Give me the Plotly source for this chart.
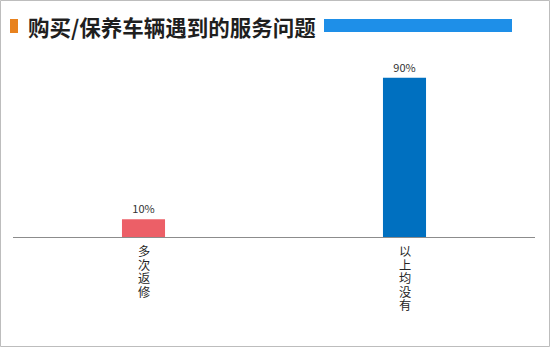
import plotly.graph_objects as go

# Chart data
categories = ["多次返修", "以上均没有"]
values = [10, 90]
bar_colors = ["#EC5F67", "#0070C0"]
title_text = "购买/保养车辆遇到的服务问题"

W, H = 550, 347
L, R, T, B = 13, 15, 60, 110
pw, ph = W - L - R, H - T - B


def px_x(x):
    return (x - L) / pw


def px_y(y):
    return 1 - (y - T) / ph


fig = go.Figure(
    go.Bar(
        x=categories,
        y=values,
        marker=dict(color=bar_colors, line=dict(width=0)),
        text=[f"{v}%" for v in values],
        textposition="outside",
        textfont=dict(size=11, color="#333333"),
        cliponaxis=False,
        width=0.165,
    )
)

# Category labels written vertically, one character per line
label_annotations = []
char_pitch = 13.5
first_char_center = 252
for cat in categories:
    for i, ch in enumerate(cat):
        label_annotations.append(
            dict(text=ch, xref="x", yref="paper", x=cat,
                 y=px_y(first_char_center + i * char_pitch),
                 xanchor="center", yanchor="middle", showarrow=False,
                 borderpad=0,
                 font=dict(size=12.2, color="#262626",
                           family="Liberation Sans, Noto Sans CJK SC, sans-serif"))
        )

fig.update_layout(
    width=W,
    height=H,
    margin=dict(l=L, r=R, t=T, b=B),
    paper_bgcolor="white",
    plot_bgcolor="white",
    font=dict(family="Noto Sans CJK SC, sans-serif", color="#333333"),
    showlegend=False,
    xaxis=dict(
        showticklabels=False,
        showline=True,
        linecolor="#8c8c8c",
        linewidth=1,
        ticks="",
        showgrid=False,
    ),
    yaxis=dict(range=[0, 100], visible=False, showgrid=False),
    shapes=[
        # outer frame
        dict(type="rect", xref="paper", yref="paper",
             x0=px_x(0.5), x1=px_x(549.5), y0=px_y(0.5), y1=px_y(346.5),
             line=dict(color="#bdbdbd", width=1)),
        # orange marker before title
        dict(type="rect", xref="paper", yref="paper",
             x0=px_x(10), x1=px_x(18), y0=px_y(19), y1=px_y(33),
             fillcolor="#E8821E", line=dict(width=0)),
        # blue band after title
        dict(type="rect", xref="paper", yref="paper",
             x0=px_x(324), x1=px_x(512), y0=px_y(19), y1=px_y(32),
             fillcolor="#1E8FE8", line=dict(width=0)),
    ],
    annotations=[
        dict(text=f"<b>{title_text}</b>", xref="paper", yref="paper",
             x=px_x(26), y=px_y(26), xanchor="left", yanchor="middle",
             showarrow=False, font=dict(size=21.5, color="#1f1f1f")),
    ] + label_annotations,
)

fig.write_html("out.html")
